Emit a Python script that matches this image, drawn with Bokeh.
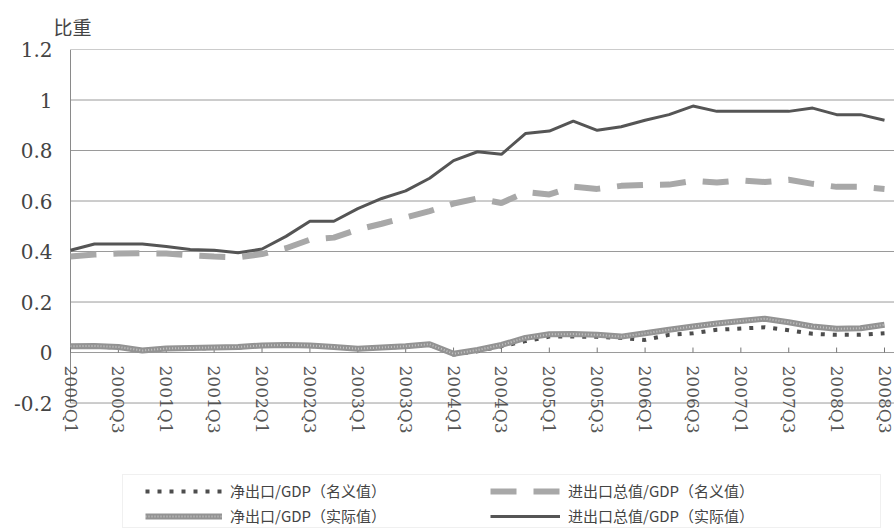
import math

from bokeh.embed import file_html
from bokeh.models import (BoxAnnotation, ColumnDataSource, FixedTicker, Legend,
                          LegendItem, Range1d)
from bokeh.plotting import figure
from bokeh.resources import INLINE

# Quarterly ratios to GDP, 2000Q1-2008Q3
quarters = [
    "2000Q1", "2000Q2", "2000Q3", "2000Q4",
    "2001Q1", "2001Q2", "2001Q3", "2001Q4",
    "2002Q1", "2002Q2", "2002Q3", "2002Q4",
    "2003Q1", "2003Q2", "2003Q3", "2003Q4",
    "2004Q1", "2004Q2", "2004Q3", "2004Q4",
    "2005Q1", "2005Q2", "2005Q3", "2005Q4",
    "2006Q1", "2006Q2", "2006Q3", "2006Q4",
    "2007Q1", "2007Q2", "2007Q3", "2007Q4",
    "2008Q1", "2008Q2", "2008Q3",
]

# net exports / GDP, nominal
net_nominal = [
    0.022, 0.024, 0.020, 0.006, 0.014, 0.016, 0.018, 0.020,
    0.026, 0.028, 0.026, 0.020, 0.013, 0.018, 0.023, 0.030,
    -0.008, 0.005, 0.025, 0.045, 0.063, 0.063, 0.062, 0.058,
    0.050, 0.070, 0.076, 0.090, 0.095, 0.100, 0.088, 0.074,
    0.070, 0.070, 0.076,
]
# total trade / GDP, nominal
trade_nominal = [
    0.380, 0.388, 0.392, 0.393, 0.392, 0.385, 0.380, 0.377,
    0.390, 0.413, 0.447, 0.455, 0.487, 0.510, 0.535, 0.560,
    0.590, 0.610, 0.592, 0.635, 0.626, 0.657, 0.648, 0.660,
    0.664, 0.665, 0.680, 0.673, 0.682, 0.675, 0.684, 0.668,
    0.656, 0.656, 0.648,
]
# net exports / GDP, real
net_real = [
    0.025, 0.026, 0.022, 0.008, 0.016, 0.018, 0.020, 0.022,
    0.028, 0.030, 0.028, 0.022, 0.015, 0.020, 0.025, 0.033,
    -0.005, 0.010, 0.030, 0.058, 0.072, 0.073, 0.070, 0.063,
    0.076, 0.090, 0.103, 0.115, 0.125, 0.134, 0.120, 0.103,
    0.094, 0.096, 0.110,
]
# total trade / GDP, real
trade_real = [
    0.405, 0.430, 0.430, 0.430, 0.420, 0.408, 0.405, 0.395,
    0.410, 0.460, 0.520, 0.520, 0.570, 0.610, 0.640, 0.690,
    0.760, 0.795, 0.785, 0.867, 0.877, 0.916, 0.880, 0.894,
    0.920, 0.942, 0.976, 0.955, 0.955, 0.955, 0.955, 0.968,
    0.942, 0.942, 0.920,
]

y_ticks = [-0.2, 0, 0.2, 0.4, 0.6, 0.8, 1, 1.2]
y_tick_labels = ["-0.2", "0", "0.2", "0.4", "0.6", "0.8", "1", "1.2"]
x_label_step = 2

series_names = [
    "净出口/GDP（名义值）",
    "进出口总值/GDP（名义值）",
    "净出口/GDP（实际值）",
    "进出口总值/GDP（实际值）",
]

# layout in pixels
W, H = 894, 529
TOP = 47                   # pixel row of the highest gridline
AXIS_BOTTOM = 402          # pixel row of the lowest gridline
FRAME_LEFT = 62            # plotting area starts a little left of the value axis
AXIS_X, LAST_X = 70, 884   # pixel columns of the first and last quarter

n = len(quarters)
px_per_quarter = (LAST_X - AXIS_X) / (n - 1)
x_start = -(AXIS_X - FRAME_LEFT) / px_per_quarter
x_end = (W - AXIS_X) / px_per_quarter

y_lo, y_hi = y_ticks[0], y_ticks[-1]
px_per_unit = (AXIS_BOTTOM - TOP) / (y_hi - y_lo)
# the plotting area runs on below the value axis so the legend has room
y_floor = y_lo - (H - AXIS_BOTTOM) / px_per_unit

idx = list(range(n))
src = ColumnDataSource(dict(
    x=idx,
    net_nominal=net_nominal,
    trade_nominal=trade_nominal,
    net_real=net_real,
    trade_real=trade_real,
))

p = figure(
    width=W, height=H,
    output_backend="svg", toolbar_location=None,
    x_range=Range1d(x_start, x_end),
    y_range=Range1d(y_floor, y_hi),
    x_axis_location=None,
    min_border_left=FRAME_LEFT, min_border_right=0,
    min_border_top=TOP, min_border_bottom=0,
)
p.outline_line_color = None
p.background_fill_color = "white"
p.grid.visible = False

# axis title
p.title.text = "比重"
p.title.align = "left"
p.title.offset = -9
p.title.standoff = 20
p.title.text_font = "Noto Sans CJK SC"
p.title.text_font_size = "19px"
p.title.text_font_style = "normal"
p.title.text_color = "#444444"

# value axis labels
p.yaxis.ticker = FixedTicker(ticks=y_ticks)
p.yaxis.bounds = (y_lo, y_hi)
p.yaxis.major_label_overrides = dict(zip(y_ticks, y_tick_labels))
p.yaxis.major_tick_in = 0
p.yaxis.major_tick_out = 0
p.yaxis.minor_tick_line_color = None
p.yaxis.axis_line_color = None
p.yaxis.major_label_standoff = 10
p.yaxis.major_label_text_font = "DejaVu Serif"
p.yaxis.major_label_text_font_size = "20px"
p.yaxis.major_label_text_color = "#444444"

# horizontal gridlines and the value axis line, starting at the first quarter
p.segment(x0=[0] * len(y_ticks), x1=[x_end] * len(y_ticks),
          y0=y_ticks, y1=y_ticks, line_color="#9a9a9a", line_width=1)
p.segment(x0=[0], x1=[0], y0=[y_lo], y1=[y_hi],
          line_color="#8a8a8a", line_width=1)

# category labels and tick marks along the zero line
x_ticks = list(range(0, n, x_label_step))
tick_len = 5 / px_per_unit
p.segment(x0=x_ticks, y0=[0] * len(x_ticks), x1=x_ticks,
          y1=[tick_len] * len(x_ticks), line_color="#777777", line_width=1)
p.text(x=x_ticks, y=[0] * len(x_ticks), text=[quarters[i] for i in x_ticks],
       angle=-math.pi / 2, y_offset=13,
       text_align="left", text_baseline="middle",
       text_font={"value": "DejaVu Serif"}, text_font_size="17px",
       text_color="#555555")

# series
r_net_nom = p.line("x", "net_nominal", source=src, line_color="#4d4d4d",
                   line_width=4, line_dash="4 8")
r_trade_nom = p.line("x", "trade_nominal", source=src, line_color="#a8a8a8",
                     line_width=6, line_dash="26 17")
r_net_real = p.line("x", "net_real", source=src, line_color="#939393",
                    line_width=6)
r_net_real_tex = p.line("x", "net_real", source=src, line_color="white",
                        line_width=2, line_alpha=0.45, line_dash="1 2")
r_trade_real = p.line("x", "trade_real", source=src, line_color="#555555",
                      line_width=3)

# legend frame (screen units from the lower left of the plotting area)
p.add_layout(BoxAnnotation(
    left=122 - FRAME_LEFT, right=880 - FRAME_LEFT, top=H - 474, bottom=H - 527,
    left_units="screen", right_units="screen",
    top_units="screen", bottom_units="screen",
    fill_alpha=0, line_color="#9a9a9a", line_width=1, line_dash="1 1",
))

legend_style = dict(
    orientation="vertical",
    padding=0, margin=0, spacing=4,
    glyph_height=20, label_height=20, label_standoff=8,
    label_text_font="Noto Sans CJK SC", label_text_font_size="15px",
    label_text_color="#444444",
    border_line_alpha=0, background_fill_alpha=0,
)
legend_left = Legend(
    items=[
        LegendItem(label=series_names[0], renderers=[r_net_nom]),
        LegendItem(label=series_names[2], renderers=[r_net_real, r_net_real_tex]),
    ],
    location=(145 - FRAME_LEFT, 3), glyph_width=77, **legend_style,
)
legend_right = Legend(
    items=[
        LegendItem(label=series_names[1], renderers=[r_trade_nom]),
        LegendItem(label=series_names[3], renderers=[r_trade_real]),
    ],
    location=(490 - FRAME_LEFT, 3), glyph_width=70, **legend_style,
)
p.add_layout(legend_left)
p.add_layout(legend_right)

open("out.html", "w").write(file_html(p, INLINE))
